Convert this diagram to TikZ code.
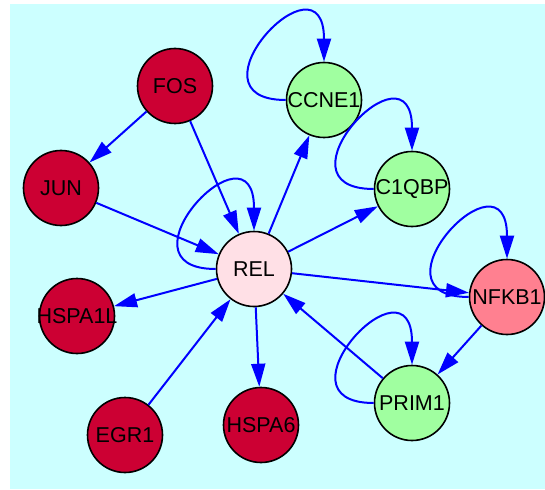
\documentclass[tikz,border=0pt]{standalone}
\usepackage{fontspec}
\setmainfont{Liberation Sans}
\usetikzlibrary{arrows.meta}
\definecolor{bgc}{RGB}{204,255,255}
\definecolor{redn}{RGB}{204,0,51}
\definecolor{greenn}{RGB}{160,255,160}
\definecolor{pinkn}{RGB}{255,128,144}
\definecolor{reln}{RGB}{255,224,230}
\newcommand\gtxt[1]{\makebox[0pt]{#1}}
\begin{document}
\begin{tikzpicture}[x=1pt,y=-1pt,
  gene/.style={circle,draw=black,line width=1.6pt,minimum size=75pt,inner sep=0pt,
    font=\fontsize{21.5}{24}\selectfont},
  edge/.style={draw=blue,line width=2pt,-{Triangle[length=23pt,width=14pt]}},
  loopedge/.style={edge}]
\useasboundingbox (0,0) rectangle (545,489);
\fill[bgc] (10,4) rectangle (545,489);

\node[gene,fill=redn] (fos) at (175,86) {\gtxt{FOS}};
\node[gene,fill=redn] (jun) at (61,188) {\gtxt{JUN}};
\node[gene,fill=redn] (hspa1l) at (77,316) {\gtxt{HSPA1L}};
\node[gene,fill=redn] (egr1) at (125,435) {\gtxt{EGR1}};
\node[gene,fill=redn] (hspa6) at (261,425) {\gtxt{HSPA6}};
\node[gene,fill=reln] (rel) at (254,269) {\gtxt{REL}};
\node[gene,fill=greenn] (ccne1) at (324,100) {\gtxt{CCNE1}};
\node[gene,fill=greenn] (c1qbp) at (412,189) {\gtxt{C1QBP}};
\node[gene,fill=pinkn] (nfkb1) at (507,297) {\gtxt{NFKB1}};
\node[gene,fill=greenn] (prim1) at (412,403) {\gtxt{PRIM1}};

\draw[edge] (fos) -- (jun);
\draw[edge] (fos) -- (rel);
\draw[edge] (jun) -- (rel);
\draw[edge] (rel) -- (ccne1);
\draw[edge] (rel) -- (c1qbp);
\draw[edge] (rel) -- (nfkb1);
\draw[edge] (rel) -- (hspa1l);
\draw[edge] (rel) -- (hspa6);
\draw[edge] (egr1) -- (rel);
\draw[edge] (prim1) -- (rel);
\draw[edge] (nfkb1) -- (prim1);

\draw[loopedge] (rel.west) .. controls +(-105,0) and +(0,-115) .. (rel.north);
\draw[loopedge] (ccne1.west) .. controls +(-105,0) and +(0,-115) .. (ccne1.north);
\draw[loopedge] (c1qbp.west) .. controls +(-105,0) and +(0,-115) .. (c1qbp.north);
\draw[loopedge] (nfkb1.west) .. controls +(-105,0) and +(0,-115) .. (nfkb1.north);
\draw[loopedge] (prim1.west) .. controls +(-105,0) and +(0,-115) .. (prim1.north);
\end{tikzpicture}
\end{document}
